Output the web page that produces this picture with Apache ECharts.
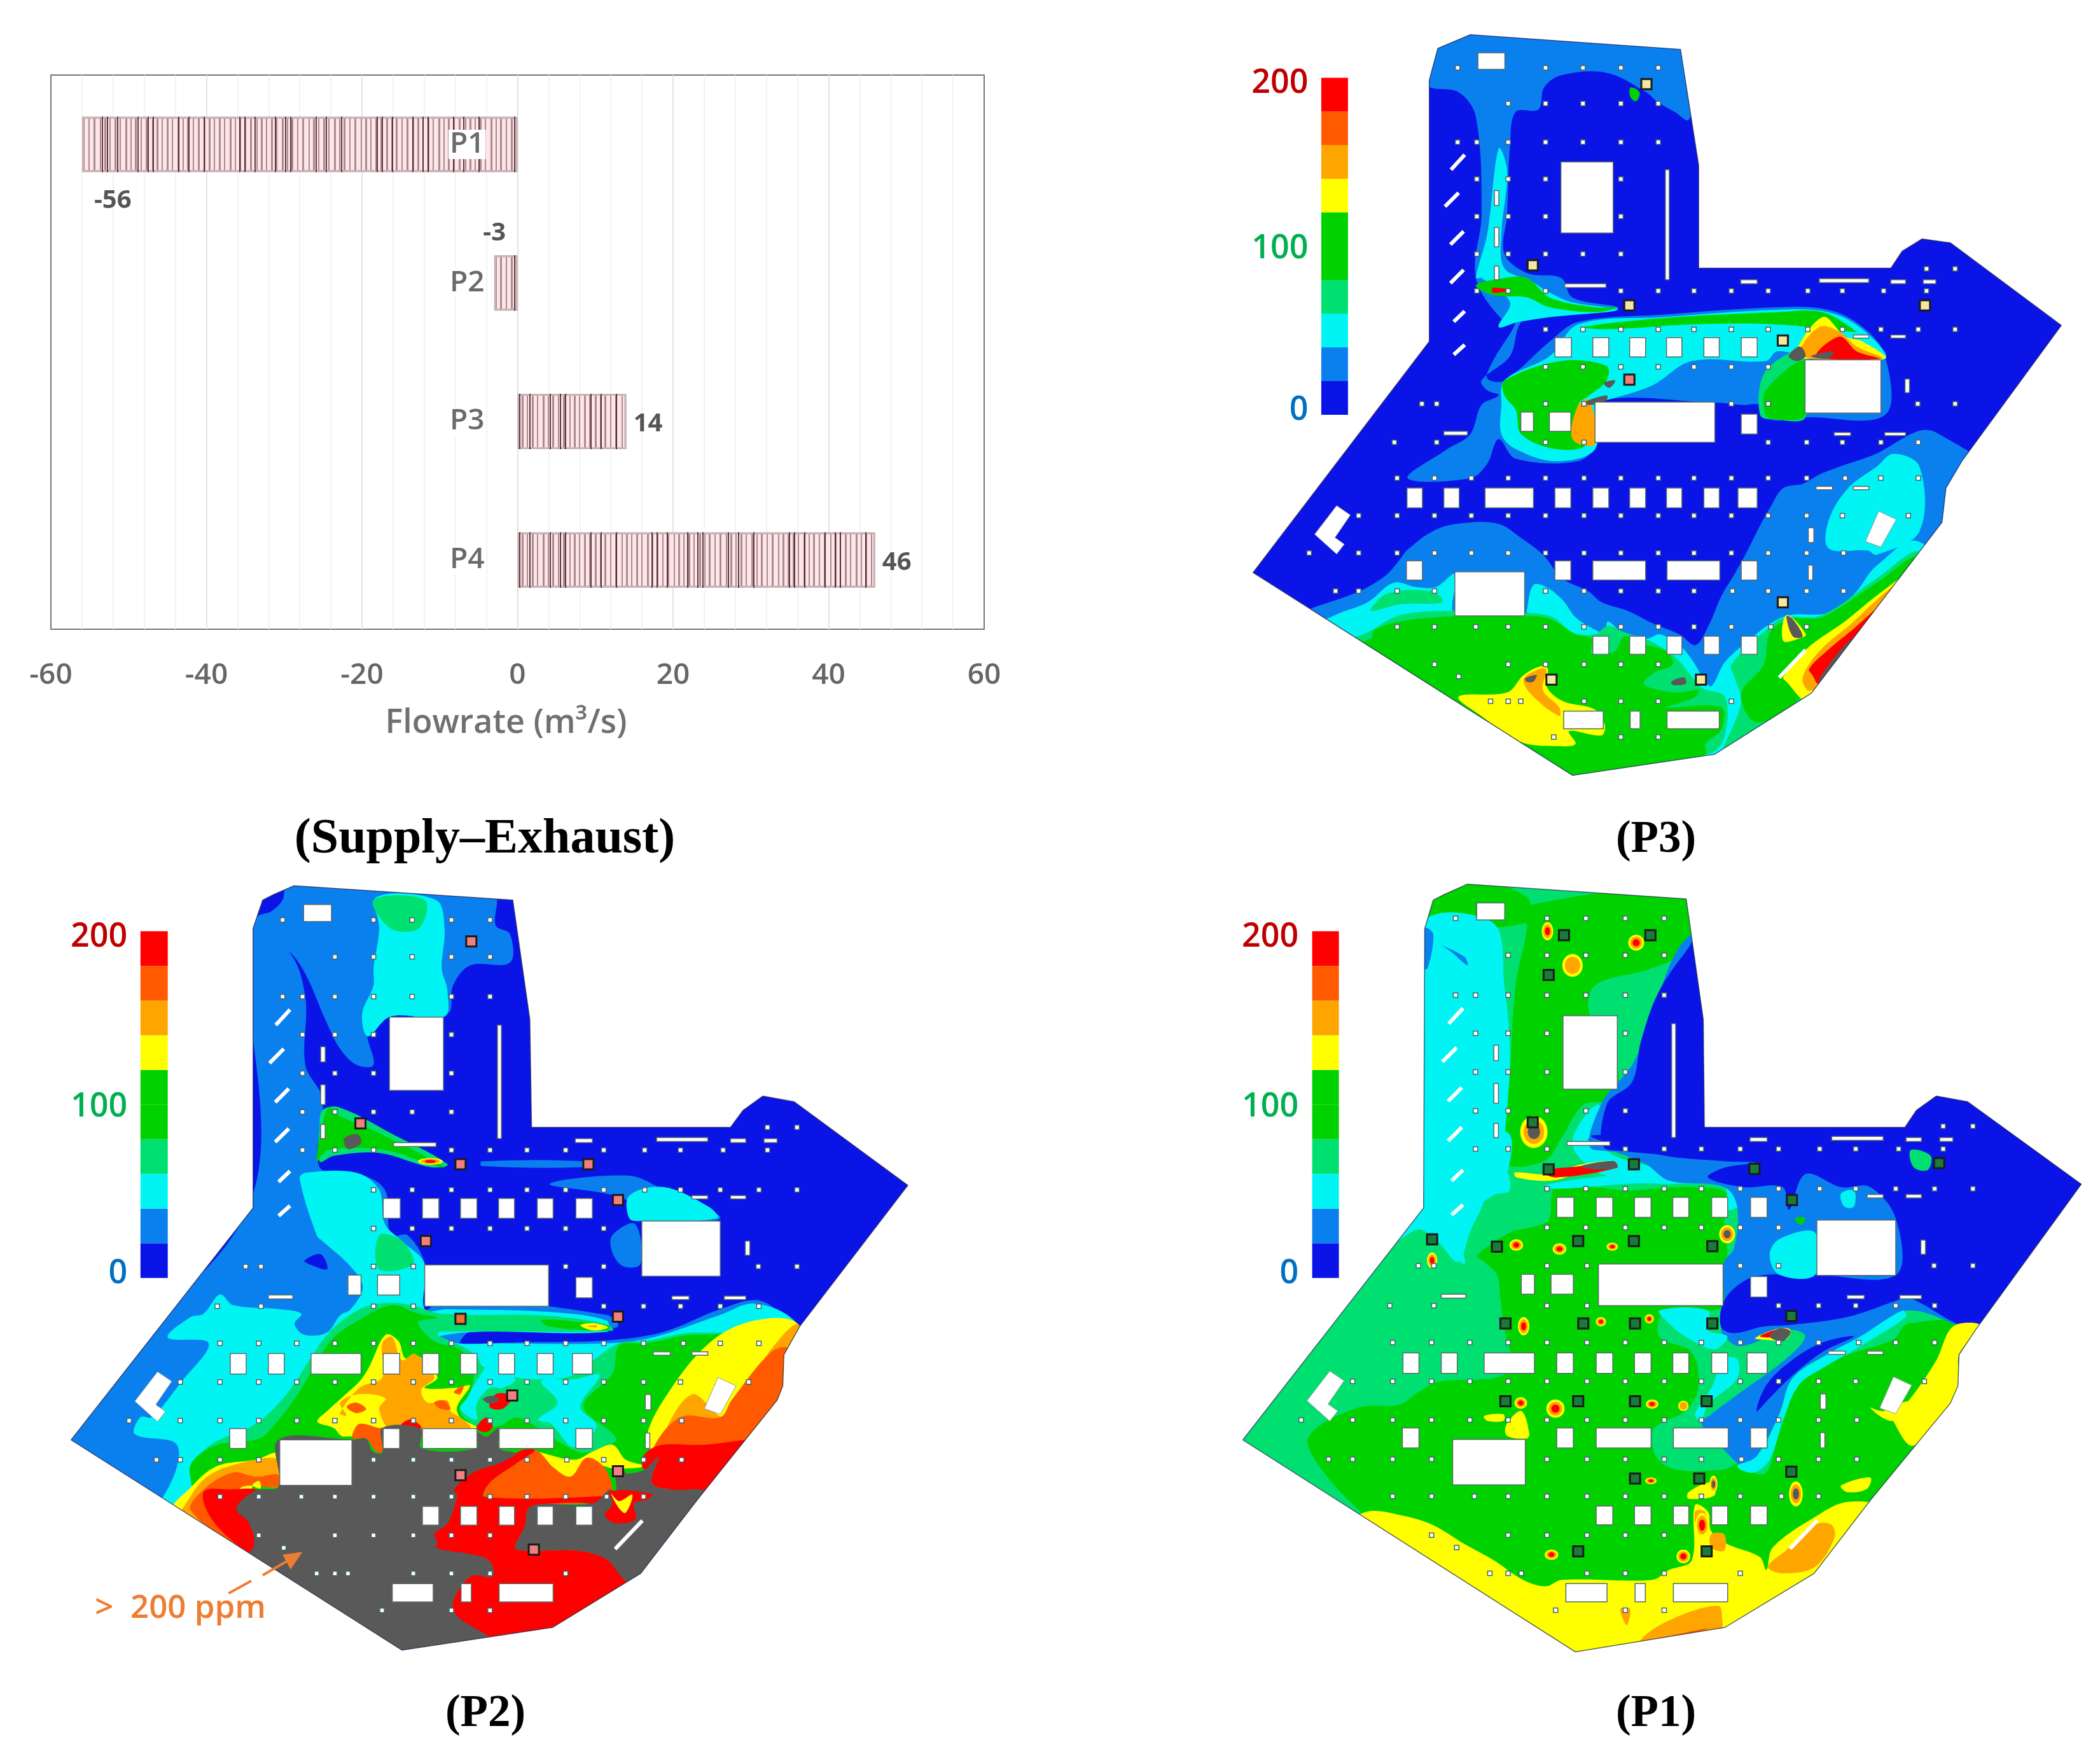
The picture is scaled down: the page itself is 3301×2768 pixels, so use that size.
<!DOCTYPE html>
<html><head><meta charset="utf-8">
<style>html,body{margin:0;padding:0;background:#fff}#c{width:3301px;height:2768px}</style>
<script src="https://cdn.jsdelivr.net/npm/echarts@6/dist/echarts.min.js"></script>
</head><body><div id="c"></div>
<script>
// ---------- bar chart data ----------
const barCategories = ['P1','P2','P3','P4'];
const barValues = [-56,-3,14,46];
// ---------- colour bins (ppm) ----------
const binColors = ['#0a14e6','#0a7fee','#00f4f4','#00e070','#00d200','#ffff00','#ffa500','#ff5a00','#ff0000','#595959'];
const legendBins = [0,1,2,3,4,4,5,6,7,8];
const legendLabels = ['0','100','200'];
// ---------- facility shape, read in each panel's own reference frame ----------
const outlineP3 = [78,1133,388,660,388,125,403,60,460,32,830,62,862,300,862,510,1200,510,1220,475,1255,450,1305,458,1500,627,1325,905,1297,960,1290,1030,1060,1380,890,1505,640,1548];
const outlineP2 = [58,1000,378,592,378,100,395,50,415,40,450,25,835,50,865,260,868,450,1218,450,1240,420,1275,395,1330,405,1530,552,1340,800,1312,850,1310,905,1300,930,1160,1105,1060,1235,905,1330,640,1370];
const outlineP1 = [60,1000,378,592,380,100,395,50,415,40,455,22,840,48,870,260,872,450,1225,450,1245,420,1280,395,1335,405,1535,550,1350,805,1320,850,1318,905,1305,935,1165,1105,1065,1235,908,1330,645,1373];
// ---------- buildings & pillars, shared frame ----------
const buildings = [[467,58,516,88],[618,256,713,385],[808,270,815,470],[607,575,637,610],[676,575,705,610],[743,575,772,610],[810,575,838,610],[878,575,906,610],[946,575,975,610],[1062,615,1200,712],[680,692,898,765],[545,710,568,745],[597,710,636,745],[946,714,975,750],[338,848,366,884],[405,848,433,884],[480,848,568,884],[607,848,636,884],[676,848,705,884],[743,848,772,884],[810,848,838,884],[878,848,906,884],[940,848,975,884],[337,980,366,1015],[607,980,636,1015],[676,980,772,1015],[811,980,907,1015],[946,980,975,1015],[425,1000,552,1080],[676,1117,705,1150],[743,1117,772,1150],[811,1117,838,1150],[878,1117,906,1150],[946,1117,975,1150],[623,1253,695,1285],[744,1253,762,1285],[811,1253,906,1285],[405,745,448,752],[625,477,700,484],[945,470,975,477],[1088,468,1178,475],[1218,470,1245,477],[1277,470,1300,477],[1150,570,1178,576],[1218,570,1245,576],[1115,747,1145,753],[1207,747,1245,753],[1082,845,1112,851],[1150,845,1178,851],[497,308,505,335],[497,375,505,410],[497,445,505,470],[1244,650,1252,675],[1068,920,1078,947],[1068,988,1076,1015]];
const slantBars = [[418,270,443,243],[407,337,432,312],[417,406,441,382],[417,476,441,452],[423,546,443,527],[423,606,443,588],[1015,1192,1063,1142]];
const slantShapes = [[1172,945,1196,890,1228,905,1200,955],[170,932,210,880,235,897,207,938,224,950,210,968]];
const pillarRows = [
 [85,[430,590,658,727,795]],[150,[522,590,658,727,795]],[220,[430,465,522,590,658,727,795]],[287,[465,522,590,727]],[355,[465,522,590,727]],[423,[465,522,590,658,727]],
 [450,[1283,1335]],[490,[465,522,590,727,795,860,928,995,1067,1130,1205,1283]],[560,[590,658,727,795,860,928,995,1067,1130,1200,1268,1335]],[628,[590,658,727,795,860,928,995]],
 [695,[365,392,590,660,928,995,1267,1335]],[765,[315,392,590,660,995,1065,1130,1200,1268]],[830,[320,388,455,522,590,660,727,795,860,928,995,1065,1135,1200,1268]],
 [898,[250,320,388,455,522,590,660,727,795,860,928,995,1065,1130,1250]],[966,[160,250,320,388,455,522,590,660,727,795,860,928,995,1065,1132]],[1035,[208,250,320,388,590,660,727,795,860,930,995,1065,1132]],
 [1100,[320,388,463,522,590,660,727,795,860,928,1000,1065]],[1168,[388,522,590,660,727,795]],[1190,[432]],[1235,[490,522,545,660,727,795,928]],[1300,[605,727,795]]];
// ---------- sources ----------
const sourcesP3 = [[770,133],[570,504],[740,586],[1260,586],[1010,658],[1010,1194],[866,1352],[603,1352]];
const sourcesP3Hot = [[740,738]];
const sourcesP2 = [[762,123],[567,443],[743,515],[968,515],[1020,578],[682,650],[1020,783],[834,922],[743,1062],[1020,1055],[872,1193]];
const sourcesP2Hot = [[743,787]];
const sourcesP1 = [[625,112],[777,112],[598,182],[570,441],[598,524],[748,515],[960,523],[1285,513],[1026,578],[393,647],[507,660],[650,650],[748,650],[886,659],[522,795],[659,795],[750,795],[886,795],[1025,782],[522,932],[650,932],[750,932],[876,932],[1025,1056],[750,1068],[863,1068],[650,1196],[876,1196]];
// magnified readings → panel frame
const c1 = a => a.map((v,i)=> i%2 ? 481+v*0.571 : 335.8+v*0.571);
const c2 = a => a.map((v,i)=> i%2 ? 651+v*0.3728 : 268.6+v*0.571);
const c3 = a => a.map((v,i)=> i%2 ? 872.3+v*0.44 : 279.8+v*0.571);
// ---------- concentration regions P3: [bin, points] ----------
const p3Regions = [
 [0,[0,1600,0,0,1600,0,1600,1600]],
 [1,[380,125,380,0,900,0,845,205,820,190,790,170,770,150,700,110,620,115,590,140,580,185,540,190,530,260,525,400,520,480,560,520,620,530,640,570,720,590,680,600,610,590,590,610,550,620,530,690,480,740,490,760,510,770,480,790,460,850,420,880,350,940,460,940,490,910,510,860,540,900,650,905,680,870,680,785,890,785,940,790,970,790,990,820,1050,815,1190,810,1190,690,1150,630,1090,595,1000,590,800,605,650,620,600,660,520,740,490,735,500,700,540,620,520,620,470,530,480,400,470,200,440,150,390,140]],
 [1,c3([0,660,60,600,100,530,120,490,200,400,280,365,400,365,480,440,540,510,600,620,680,680,720,730,800,770,880,830,960,880,1010,930,1050,840,1090,700,1130,600,1170,490,1210,370,1240,290,1280,200,1340,180,1400,130,1550,50,1750,-60,2200,600,1100,1700,-300,1700,-300,900])],
 [2,[510,265,525,310,515,440,520,510,565,535,600,560,640,580,720,595,600,610,545,620,510,630,530,580,480,530,470,530,490,440]],
 [2,[520,740,600,690,650,625,800,610,1000,595,1090,600,1150,635,1190,695,1050,690,1000,680,980,700,850,700,780,750,700,780,680,785,680,880,610,905,540,880,515,850,515,790]],
 [2,c3([-100,790,0,730,80,640,150,660,210,660,270,600,270,795,490,795,490,770,510,650,550,660,600,720,640,800,690,850,730,870,740,820,790,880,860,900,900,880,960,930,1000,1000,1040,1100,1060,1120,1100,1010,1180,900,1240,830,1300,790,1420,780,1500,690,1568,560,1700,450,2000,900,1100,1700,-300,1700,-300,950])],
 [2,c3([1568,100,1480,200,1420,350,1420,480,1540,490,1568,510,1700,400,1700,100,1620,40])],
 [3,c3([10,770,60,690,200,680,230,730,100,740])],
 [3,c3([0,870,100,790,270,770,490,780,570,800,630,870,700,880,740,840,790,870,870,910,950,990,990,1060,1030,1130,1100,1170,1100,1350,1060,1430,630,1600,-200,1000])],
 [3,c3([1120,1020,1250,830,1290,800,1400,790,1568,620,1700,500,1700,900,1470,1000,1370,1150,1100,1430,1150,1200,1130,1080])],
 [3,[970,810,980,720,1050,680,1050,815,1000,820]],
 [4,c3([10,900,20,860,100,820,220,800,270,795,490,795,540,800,590,830,640,880,690,900,690,970,760,960,790,890,840,920,920,960,940,1020,880,1060,850,1110,900,1140,960,1150,1020,1140,1010,1170,960,1200,920,1220,1090,1220,1090,1320,1040,1390,1040,1440,630,1600,-200,1000])],
 [4,c3([1220,1020,1240,870,1300,810,1400,800,1568,640,1700,520,1700,800,1400,920,1340,1160,1200,1290,1150,1160])],
 [4,[520,740,620,700,700,710,700,740,670,770,650,790,665,870,610,880,550,850,540,800,520,770]],
 [4,[660,630,800,612,1000,600,1080,600,1140,640,1130,640,1000,625,850,625,700,635]],
 [4,[980,810,980,760,1050,700,1050,810,1000,820]],
 [4,[470,545,520,530,560,530,600,570,680,590,720,590,680,600,600,590,560,570,500,565]],
 [4,[742,140,758,150,752,168,742,160]],
 [5,c3([280,1170,430,1150,480,1070,530,1030,555,1040,550,1120,600,1190,700,1230,730,1300,720,1350,620,1330,640,1390,580,1400,470,1380,350,1260])],
 [5,c3([1280,1080,1350,950,1470,820,1568,700,1700,560,1500,900,1380,1120,1350,1190,1290,1100])],
 [5,c3([1280,910,1290,790,1350,880,1330,900])],
 [5,[1030,690,1080,610,1120,650,1150,660,1190,695,1060,695]],
 [6,[650,790,670,780,680,870,640,860]],
 [6,c3([1340,1080,1390,960,1490,830,1568,720,1650,620,1500,900,1380,1130,1355,1140])],
 [6,[1040,680,1075,630,1110,640,1140,670,1185,695,1060,695]],
 [6,c3([480,1090,530,1040,550,1045,540,1140,590,1220,590,1260,510,1170])],
 [8,c3([1360,1040,1420,950,1500,850,1600,720,1480,960,1390,1110,1370,1070])],
 [8,[1070,690,1110,650,1140,680,1180,695]],
 [8,[500,550,530,555,500,560]],
 [9,c3([1390,1090,1470,930,1520,870,1470,980,1400,1110])],
 [9,[1020,690,1040,670,1050,690,1035,700]],
 [9,[1060,690,1100,680,1090,695]],
 [9,[660,785,700,770,700,780,670,790]],
 [9,[695,745,715,740,705,755]],
 [9,c3([1290,795,1310,810,1340,890,1310,890])],
 [9,c3([935,1100,975,1080,980,1110,940,1115])],
 [9,c3([485,1085,520,1070,510,1100,490,1100])]
];
// ---------- concentration regions P2 ----------
const p2Regions = [
 [0,[0,1500,0,0,1600,0,1600,1500]],
 [1,[440,20,800,40,805,95,830,110,830,160,760,165,730,200,720,250,620,250,580,280,590,340,560,340,530,310,505,260,470,180,440,140,380,110,385,80,410,70,430,50]],
 [1,[370,110,440,140,470,220,470,340,500,400,495,520,560,530,610,560,620,640,650,640,680,690,680,770,720,750,1000,780,1020,800,960,810,760,810,740,840,800,830,1000,825,1100,810,1200,770,1270,755,1340,800,1400,800,1400,1400,0,1400,0,1000,370,590]],
 [0,c2([350,90,400,60,420,130,370,110])],
 [1,[1010,640,1050,620,1060,690,1030,695,1010,670]],
 [1,[900,550,1040,535,1100,560,1200,610,1060,612,1030,575]],
 [1,[780,510,960,510,960,520,780,518]],
 [2,[595,45,700,50,715,100,710,170,720,210,715,255,620,255,580,290,570,250,590,200,590,170,600,100]],
 [2,[470,530,560,530,600,560,610,620,640,650,680,690,680,770,720,770,900,775,1000,790,1000,810,770,810,700,820,740,830,800,830,1000,830,1080,820,1200,780,1260,760,1330,790,1400,900,1400,1400,0,1400,220,1100,245,1010,170,990,180,960,200,960,250,900,300,830,228,820,268,784,291,778,320,744,343,763,423,770,463,778,451,796,468,815,508,811,531,781,550,770,571,730,545,690,500,650,490,640,460,540]],
 [2,[1040,570,1100,555,1180,590,1195,610,1062,615,1040,610]],
 [3,[590,50,680,50,670,100,620,100]],
 [3,[500,420,530,415,620,460,720,515,690,520,600,495,520,500,495,510,495,450]],
 [3,c2([420,440,520,320,600,290,680,300,770,340,1100,350,1280,390,1300,420,1000,425,770,425,760,440,830,490,880,540,900,590,1000,640,1100,650,1180,630,1240,560,1320,480,1400,470,1568,430,1800,500,1800,1700,-400,1900,-70,1290,0,1190,0,1080,60,960,200,860,300,710])],
 [3,[600,640,640,650,660,690,600,700]],
 [4,[510,415,530,430,600,460,715,520,690,515,610,490,510,490,490,510]],
 [4,c2([430,470,530,360,620,300,700,340,760,360,700,380,750,470,830,510,870,600,860,720,830,800,880,870,950,870,1000,830,1050,860,1110,920,1190,990,1240,990,1310,930,1210,780,1300,620,1320,490,1400,480,1568,440,1800,500,1800,1700,-400,1900,-90,1300,0,1200,0,1050,80,960,210,930,260,860,330,720])],
 [4,c2([1080,370,1200,380,1290,400,1280,420,1100,400])],
 [2,c2([850,740,880,660,930,570,1000,650,960,690,920,690,880,770,880,840,830,790])],
 [2,c2([1080,660,1180,650,1260,630,1200,780,1250,870,1180,970,1110,860,1070,840,1130,760])],
 [5,c2([1200,395,1240,385,1285,405,1240,420])],
 [6,c2([1220,400,1250,395,1250,405])],
 [5,c2([390,850,420,800,470,730,520,660,550,590,600,440,640,470,660,550,700,540,760,640,720,690,820,690,860,680,820,780,830,830,880,880,470,920,440,880])],
 [6,c2([460,810,520,690,590,640,590,480,620,450,650,560,690,530,750,640,710,700,730,760,790,750,800,800,830,830,860,880,620,890,580,790,600,740,520,720,460,760,480,820])],
 [7,c2([480,780,510,760,540,790,510,810])],
 [7,c2([750,760,780,750,800,790,770,790])],
 [7,c2([810,710,840,680,830,720])],
 [5,[1070,1000,1100,930,1180,830,1260,790,1340,800,1400,1000,1400,1200,1160,1100,1090,1030]],
 [6,[1090,1010,1150,920,1210,960,1290,840,1340,800,1400,1100,1180,1100,1090,1030]],
 [7,[1080,1020,1130,960,1200,960,1220,930,1290,845,1320,840,1320,930,1160,1110,1080,1080]],
 [5,c2([-60,1280,0,1160,80,1060,200,1030,270,1000,270,1155,200,1140,100,1400])],
 [6,c2([-60,1400,0,1200,60,1100,170,1040,270,1030,270,1155,130,1150,160,1400])],
 [7,c2([0,1270,40,1170,130,1090,200,1110,270,1100,270,1155,150,1170,170,1440])],
 [5,c2([190,1150,210,1130,215,1165])],
 [7,c2([500,900,520,860,580,880,590,880,590,990,570,990,540,930,500,930])],
 [8,c2([650,860,680,840,710,880,650,885])],
 [8,c2([880,880,910,830,930,870,910,900])],
 [5,c2([1040,985,1180,1030,1240,990,1300,960,1340,1030,1400,1060,1300,1070,1220,1040,1170,1110,1100,1060])],
 [7,c2([905,1200,920,1140,1000,1050,1060,985,1120,1070,1170,1110,1220,1020,1280,1080,1290,1210,1040,1235])],
 [8,c2([870,1090,960,1040,1020,985,1060,985,1000,1050,920,1140,905,1205,1290,1200,1320,1180,1300,1060,1340,1100,1290,1300,1240,1240,1080,1240,1040,1260,1030,1340,1000,1446,1036,1459,1193,1459,1281,1499,1334,1593,1456,1741,1141,1955,930,1902,808,1741,860,1580,930,1580,913,1499,755,1446,750,1380,790,1330,820,1200,810,1170])],
 [8,c2([1400,1000,1450,960,1568,960,1800,950,1800,1150,1568,1190,1480,1170,1420,1140,1440,1020,1400,1075,1390,1060])],
 [8,c2([40,1180,120,1170,220,1180,270,1300,250,1520,150,1440,60,1300])],
 [9,c2([270,1155,200,1175,140,1260,180,1330,190,1450,55,1600,650,2100,930,1902,808,1741,860,1580,930,1580,913,1499,755,1446,760,1420,750,1380,790,1330,820,1200,810,1170,870,1090,960,1040,1000,1000,950,975,950,880,910,920,880,900,880,975,710,975,710,885,590,880,590,995,560,990,540,930,500,935,270,935])],
 [9,c2([1310,1075,1345,1095,1400,1075,1440,1020,1420,1140,1480,1170,1600,1190,1700,1500,1500,1750,1334,1593,1281,1499,1193,1459,1036,1459,1000,1446,1030,1340,1040,1260,1080,1240,1240,1235,1290,1170,1310,1180])],
 [8,c2([1290,1180,1420,1190,1405,1220,1365,1235,1370,1310,1310,1330,1275,1290,1300,1240])],
 [5,c2([1295,1190,1320,1225,1360,1195,1340,1280,1320,1260])],
 [9,[538,470,562,462,568,478,545,488]],
 [8,c2([940,720,990,730,960,790,920,780])],
 [9,c2([900,745,925,728,950,745,925,765])]
];
// ---------- concentration regions P1 ----------
const p1Regions = [
 [3,[0,1500,0,0,1600,0,1600,1500]],
 [4,[390,90,560,90,560,45,460,15,400,40]],
 [4,[560,60,840,40,850,130,780,170,680,200,670,250,720,350,710,400,660,410,620,470,590,510,520,510,530,350,540,200,560,100]],
 [4,c1([-130,810,0,800,60,760,120,730,320,710,340,640,330,600,320,550,310,470,300,400,260,360,240,340,340,270,420,250,460,230,480,130,600,130,700,140,900,130,1010,150,1000,230,1010,330,1000,370,995,500,820,510,800,590,900,640,920,750,880,820,820,850,780,880,790,960,850,1000,1000,1000,1050,980,1090,1010,1130,1010,1160,920,1190,830,1230,730,1300,680,1400,640,1520,600,1568,550,1800,560,2100,800,1800,1600,500,1700,-100,1150,-240,1000,-280,900])],
 [2,[375,95,500,90,520,200,530,330,520,500,530,560,500,570,440,620,450,690,400,640,370,610]],
 [2,c1([80,-40,330,-40,330,90,280,130,250,200,220,260,180,360,120,300,60,260,0,290,70,190])],
 [2,c1([450,125,520,110,640,95,790,80,840,110,1000,125,1050,180,1010,200,1000,130,800,120,700,120,480,135])],
 [2,[685,410,700,490,790,525,700,535,640,480]],
 [1,[745,340,690,410,680,490,1600,490,1600,300,880,100]],
 [1,c1([590,-20,760,60,830,110,1000,130,1040,190,1030,320,1000,360,1000,500,990,560,1000,590,1050,620,1200,570,1250,590,1190,660,1040,770,960,830,930,860,1010,950,1060,990,1100,960,1170,830,1210,720,1310,650,1450,590,1568,510,1780,570,2400,570,2400,-20])],
 [0,[840,140,790,215,760,300,745,370,700,410,705,490,1600,490,1600,300,1300,390,880,100]],
 [0,c1([600,-30,800,30,1000,50,1100,55,1000,70,950,100,1060,130,1180,130,1200,200,1250,90,1360,130,1450,130,1530,230,1530,400,1280,400,1130,400,1060,420,1000,480,990,560,1030,580,1120,560,1200,555,1380,530,1530,480,1568,470,1780,570,2400,570,2400,-30])],
 [2,c1([1170,290,1280,270,1280,400,1170,400,1140,340])],
 [2,c1([1360,150,1400,140,1400,190,1370,190])],
 [4,c1([1220,225,1250,225,1240,245,1225,240])],
 [0,c1([1100,820,1130,740,1200,670,1300,610,1400,590,1300,640,1200,720,1140,780])],
 [2,c1([800,510,950,510,950,570,1010,590,970,630,880,590,830,550])],
 [2,c1([1000,660,1040,660,1040,720,950,800,930,850,910,830,960,750])],
 [2,c1([1040,990,1090,1010,1140,970,1180,850,1230,740,1300,690,1420,620,1560,530,1550,510,1420,590,1310,650,1210,720,1170,830,1100,960])],
 [3,[1235,490,1270,500,1265,525,1240,520]],
 [1,[380,100,395,110,385,170,375,170]],
 [1,[410,130,450,150,455,165,425,140]],
 [5,c1([-100,1130,0,1140,100,1170,200,1230,290,1280,380,1340,450,1360,500,1340,780,1340,830,1310,900,1280,910,1110,950,1130,960,1190,1010,1230,1110,1270,1130,1310,1150,1240,1290,1140,1380,1100,1480,1120,1250,1360,1000,1540,540,1640,-160,1180])],
 [5,[1205,960,1240,920,1280,860,1310,800,1360,800,1320,850,1320,920,1240,1010,1200,960]],
 [5,c1([1360,1050,1450,1025,1440,1060,1380,1070])],
 [5,c1([1450,810,1490,820,1568,790,1560,830,1510,850])],
 [5,c1([330,860,375,820,400,890,390,905,330,895])],
 [5,c1([260,835,320,830,320,850,270,850])],
 [5,c1([890,1070,960,1040,970,1080,890,1090])],
 [6,c1([1135,1300,1190,1250,1280,1170,1330,1170,1340,1210,1280,1300,1180,1320])],
 [6,c1([740,1530,820,1470,980,1420,995,1470,990,1490,800,1530])],
 [7,c1([790,1525,950,1490,800,1535])],
 [6,c1([910,1130,940,1130,950,1180,920,1190])],
 [6,c1([960,1200,1000,1200,1000,1250,960,1240])],
 [6,c1([680,1430,710,1430,700,1480])],
 [5,c1([355,85,460,90,560,60,660,50,670,70,560,85,470,110,360,100])],
 [8,c1([440,80,560,65,660,50,670,70,480,100])],
 [9,c1([560,65,660,50,670,70,590,75])],
 [5,c1([1095,595,1170,565,1205,570,1190,600,1120,600])],
 [8,c1([1110,590,1170,568,1180,590])],
 [9,c1([1140,590,1170,565,1205,575,1180,605])]
];
const p1Spots = [[596,105,10,16,8],[752,125,14,14,8],[640,165,18,20,6],[572,458,24,28,9],[541,657,12,10,8],[617,664,12,10,8],[710,660,10,7,8],[393,684,9,14,8],[912,638,14,16,9],[554,800,10,16,8],[690,792,9,8,8],[775,787,8,8,8],[549,935,11,10,8],[610,945,16,16,8],[780,937,11,8,8],[835,940,9,9,6],[778,1072,10,6,8],[888,1078,7,15,9],[1033,1095,12,22,9],[868,1150,12,22,8],[835,1205,12,12,8],[603,1202,12,9,8]];
const p2Spots = [[690,510,22,6,8]];

const C = echarts.init(document.getElementById('c'));
const pts = (a, api) => { const out = []; for (let i = 0; i < a.length; i += 2) out.push(api.coord([a[i], a[i+1]])); return out; };
function regionSeries(regions, outline, axis) {
  return { type:'custom', coordinateSystem:'cartesian2d', xAxisIndex:axis, yAxisIndex:axis, silent:true, clip:false, z:2,
    data: regions.map((r,i)=>[i,r[0]]), encode:{x:0,y:1},
    renderItem(p, api){ const i = api.value(0); const r = regions[i];
      return { type:'polygon', shape:{points:pts(r[1],api), smooth:i===0?0:0.35}, style:{fill:binColors[r[0]], stroke:null}, clipPath:{type:'polygon', shape:{points:pts(outline,api)}} }; } };
}
function spotSeries(spots, axis){
  return { type:'custom', coordinateSystem:'cartesian2d', xAxisIndex:axis, yAxisIndex:axis, silent:true, clip:false, z:3,
    data: spots.map((r,i)=>[i,0]), encode:{x:0,y:1},
    renderItem(p, api){ const s = spots[api.value(0)]; const c = api.coord([s[0],s[1]]); const k = api.size([1,1]);
      const rings = [[1,5],[0.75,6],[0.45,s[4]]];
      return { type:'group', children:rings.map(q=>({type:'ellipse', shape:{cx:c[0],cy:c[1],rx:s[2]*q[0]*k[0],ry:s[3]*q[0]*k[1]}, style:{fill:binColors[q[1]]}})) }; } };
}
function outlineSeries(outline, axis){
  return { type:'custom', coordinateSystem:'cartesian2d', xAxisIndex:axis, yAxisIndex:axis, silent:true, clip:false, z:3, data:[[0,0]], encode:{x:0,y:1},
    renderItem(p, api){ return {type:'polygon', shape:{points:pts(outline,api)}, style:{fill:null, stroke:'#2a2a50', lineWidth:1.5, opacity:0.7}}; } };
}
function buildingSeries(axis){
  const items = [].concat(buildings.map((b,i)=>[0,i]), slantBars.map((b,i)=>[1,i]), slantShapes.map((b,i)=>[2,i]));
  return { type:'custom', coordinateSystem:'cartesian2d', xAxisIndex:axis, yAxisIndex:axis, silent:true, clip:false, z:4, data:items, encode:{x:0,y:1},
    renderItem(p, api){ const k=api.value(0), i=api.value(1);
      if(k===0){ const b=buildings[i]; const a=api.coord([b[0],b[1]]), c=api.coord([b[2],b[3]]);
        return {type:'rect', shape:{x:a[0],y:a[1],width:c[0]-a[0],height:c[1]-a[1]}, style:{fill:'#fff',stroke:'#5a6a6a',lineWidth:1.5}}; }
      if(k===1){ const b=slantBars[i]; const a=api.coord([b[0],b[1]]), c=api.coord([b[2],b[3]]);
        return {type:'line', shape:{x1:a[0],y1:a[1],x2:c[0],y2:c[1]}, style:{stroke:'#fff',lineWidth:6}}; }
      return {type:'polygon', shape:{points:pts(slantShapes[i],api)}, style:{fill:'#fff',stroke:'#999',lineWidth:1}}; } };
}
function pillarSeries(axis){
  const items=[]; pillarRows.forEach(r=>r[1].forEach(x=>items.push([x,r[0]])));
  return { type:'custom', coordinateSystem:'cartesian2d', xAxisIndex:axis, yAxisIndex:axis, silent:true, clip:false, z:5, data:items, encode:{x:0,y:1},
    renderItem(p, api){ const c=api.coord([api.value(0),api.value(1)]);
      return {type:'rect', shape:{x:c[0]-3.5,y:c[1]-3.5,width:7,height:7}, style:{fill:'#fff',stroke:'#44666a',lineWidth:1.5}}; } };
}
function sourceSeries(list, fill, axis, size){
  return { type:'custom', coordinateSystem:'cartesian2d', xAxisIndex:axis, yAxisIndex:axis, silent:true, clip:false, z:6, data:list, encode:{x:0,y:1},
    renderItem(p, api){ const c=api.coord([api.value(0),api.value(1)]);
      return {type:'rect', shape:{x:c[0]-size/2,y:c[1]-size/2,width:size,height:size}, style:{fill:fill,stroke:'#1a1a1a',lineWidth:3}}; } };
}
function legendSeries(x0,x1,y0,step,axis,labelX){
  const items = legendBins.map((b,i)=>[i,b]);
  const nudge = [-0.12*step,0.08*step,0.17*step];
  return [{ type:'custom', coordinateSystem:'cartesian2d', xAxisIndex:axis, yAxisIndex:axis, silent:true, clip:false, z:5, data:items, encode:{x:0,y:1},
    renderItem(p, api){ const i=api.value(0); const a=api.coord([x0,y0-(i+1)*step]), c=api.coord([x1,y0-i*step]);
      return {type:'rect', shape:{x:a[0],y:a[1],width:c[0]-a[0],height:c[1]-a[1]}, style:{fill:binColors[api.value(1)]}}; } },
   { type:'custom', coordinateSystem:'cartesian2d', xAxisIndex:axis, yAxisIndex:axis, silent:true, clip:false, z:5, data:[[0,0],[1,0],[2,0]], encode:{x:0,y:1},
    renderItem(p, api){ const i=api.value(0); const c=api.coord([labelX, y0-i*5*step+nudge[i]]);
      const col=['#0070c0','#00b050','#c00000'][i];
      return {type:'text', x:c[0], y:c[1], style:{text:legendLabels[i], fill:col, font:'600 52px "Open Sans"', align:'right', verticalAlign:'middle'}}; } }];
}
const hide = (g,min,max,inv)=>({gridIndex:g,type:'value',min,max,inverse:!!inv,show:false});
const mapGrids = [
 {left:1900,top:30,width:1401,height:1204},        // P3 contours
 {left:1919.6,top:32.9,width:1355,height:1355},    // P3 buildings
 {left:60,top:1370,width:1401,height:1398},        // P2
 {left:1900,top:1370,width:1401,height:1398},      // P1 contours
 {left:1901.6,top:1367.3,width:1409,height:1401}   // P1 buildings
].map(g=>Object.assign(g,{outerBoundsMode:'none'}));
const frames = [[1568,1568],[1568,1565],[1568,1565],[1568,1565],[1568,1565]];
const titleStyle = {fontFamily:'"Liberation Serif"',fontWeight:'bold',fontSize:71,color:'#000'};
const hatchLight = {symbol:'rect',symbolSize:1,color:'rgba(105,60,70,0.55)',rotation:0,dashArrayX:[3,5,2,6,3,5,2,7,3,5,2,5,3,6,2,6,3,7,2,5],dashArrayY:[200,0]};
const hatchDark = {symbol:'rect',symbolSize:1,color:'rgba(70,25,35,0.85)',rotation:0,dashArrayX:[2,14,2,6,2,38,2,14,2,22,2,54,2,6,2,14,2,30],dashArrayY:[200,0]};
const barData = barValues.map((v,i)=>{
  const lab = i===0?{position:'insideBottomLeft',offset:[14,70]}:i===1?{position:'top',offset:[-18,-10]}:{position:'right',offset:[6,4]};
  return {value:v,label:lab};
});
const option = {
 animation:false, backgroundColor:'#fff',
 title:[
  {text:'(Supply\u2013Exhaust)',left:757,top:1276,textAlign:'center',textStyle:Object.assign({},titleStyle,{fontSize:78})},
  {text:'(P3)',left:2598,top:1280,textAlign:'center',textStyle:titleStyle},
  {text:'(P2)',left:758,top:2654,textAlign:'center',textStyle:titleStyle},
  {text:'(P1)',left:2598,top:2654,textAlign:'center',textStyle:titleStyle}
 ],
 grid:[{left:80,top:118,width:1467,height:871,show:true,borderColor:'#777',borderWidth:2,backgroundColor:'#fff',outerBoundsMode:'none'}].concat(mapGrids),
 xAxis:[{gridIndex:0,type:'value',min:-60,max:60,interval:20,
   axisLine:{onZero:false,lineStyle:{color:'#666',width:2}},axisTick:{show:false},
   axisLabel:{margin:50,color:'#666',fontFamily:'"Open Sans"',fontWeight:600,fontSize:46},
   splitLine:{show:true,showMinLine:false,showMaxLine:false,lineStyle:{color:'#e4e4e4',width:2}},
   minorTick:{show:false,splitNumber:5},minorSplitLine:{show:true,lineStyle:{color:'#efefef',width:1.5}},
   name:'Flowrate (m\u00b3/s)',nameLocation:'center',nameGap:122,
   nameTextStyle:{color:'#707070',fontFamily:'"Open Sans"',fontWeight:600,fontSize:52,padding:[0,36,0,0]}}
  ].concat(frames.map((f,i)=>hide(i+1,0,f[0]))),
 yAxis:[{gridIndex:0,type:'category',inverse:true,data:barCategories,z:5,offset:-733.5,
   axisLine:{show:false,onZero:false},axisTick:{show:false},
   axisLabel:{margin:50,color:'#6a6a6a',fontFamily:'"Open Sans"',fontWeight:600,fontSize:46,backgroundColor:'#fff',padding:[0,2]}}
  ].concat(frames.map((f,i)=>hide(i+1,0,f[1],true))),
 series:[
  {type:'bar',xAxisIndex:0,yAxisIndex:0,data:barData,barWidth:87,barGap:'-100%',z:2,
   itemStyle:{color:'#fce6e8',borderColor:'#c9b4b6',borderWidth:3,decal:hatchLight},
   label:{show:true,color:'#555',fontFamily:'"Open Sans"',fontWeight:700,fontSize:40}},
  {type:'bar',xAxisIndex:0,yAxisIndex:0,data:barValues,barWidth:87,barGap:'-100%',z:3,
   itemStyle:{color:'rgba(0,0,0,0)',decal:hatchDark}},
  regionSeries(p3Regions,outlineP3,1), outlineSeries(outlineP3,1),
  buildingSeries(2), pillarSeries(2),
  sourceSeries(sourcesP3,'#f5e6a0',1,16), sourceSeries(sourcesP3Hot,'#f08080',1,16),
  ...legendSeries(198,245,810,69,1,175),
  regionSeries(p2Regions,outlineP2,3), outlineSeries(outlineP2,3),
  spotSeries(p2Spots,3),
  buildingSeries(3), pillarSeries(3),
  sourceSeries(sourcesP2,'#f08080',3,16), sourceSeries(sourcesP2Hot,'#f07030',3,16),
  ...legendSeries(180,228,715,61,3,157),
  regionSeries(p1Regions,outlineP1,4), outlineSeries(outlineP1,4),
  spotSeries(p1Spots,4),
  buildingSeries(5), pillarSeries(5),
  sourceSeries(sourcesP1,'#1a7a3a',4,16),
  ...legendSeries(182,229,715,61,4,158),
  {type:'custom',coordinateSystem:'cartesian2d',xAxisIndex:3,yAxisIndex:3,silent:true,clip:false,z:7,data:[[0,0]],encode:{x:0,y:1},
   renderItem(p,api){ const a=api.coord([335,1270]),b=api.coord([375,1248]),c=api.coord([395,1238]),d=api.coord([440,1212]),t=api.coord([100,1297]);
     return {type:'group',children:[
      {type:'line',shape:{x1:a[0],y1:a[1],x2:b[0],y2:b[1]},style:{stroke:'#ed7d31',lineWidth:4}},
      {type:'line',shape:{x1:c[0],y1:c[1],x2:d[0],y2:d[1]},style:{stroke:'#ed7d31',lineWidth:4}},
      {type:'polygon',shape:{points:pts([465,1197,430,1202,444,1228],api)},style:{fill:'#ed7d31'}},
      {type:'text',x:t[0],y:t[1],style:{text:'>  200 ppm',fill:'#ed7d31',font:'600 51px "Open Sans"',align:'left',verticalAlign:'middle'}}
     ]}; }}
 ]
};
C.setOption(option);
</script></body></html>
